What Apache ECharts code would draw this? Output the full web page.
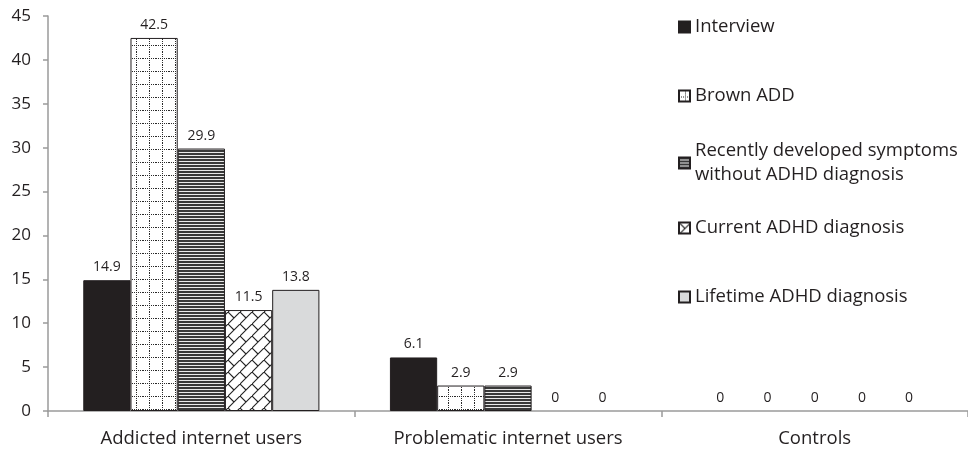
<!DOCTYPE html>
<html>
<head>
<meta charset="utf-8">
<script src="https://cdn.jsdelivr.net/npm/echarts@6/dist/echarts.min.js"></script>
<style>
html,body{margin:0;padding:0;background:#fff;}
#chart{width:968px;height:453px;}
</style>
</head>
<body>
<div id="chart"></div>
<script>
const categories = ['Addicted internet users', 'Problematic internet users', 'Controls'];
const seriesNames = ['Interview', 'Brown ADD', 'Recently developed symptoms\nwithout ADHD diagnosis', 'Current ADHD diagnosis', 'Lifetime ADHD diagnosis'];
const interview = [14.9, 6.1, 0];
const brownADD = [42.5, 2.9, 0];
const recentSymptoms = [29.9, 2.9, 0];
const currentADHD = [11.5, 0, 0];
const lifetimeADHD = [13.8, 0, 0];
const yTicks = {min: 0, max: 45, interval: 5};

const FONT = '"Open Sans", sans-serif';
const INK = '#231f20';

function makeCanvas(w, h, draw) {
  const c = document.createElement('canvas');
  c.width = w; c.height = h;
  const ctx = c.getContext('2d');
  draw(ctx, w, h);
  return c;
}
const dottedGrid = makeCanvas(13, 13, (ctx, w, h) => {
  ctx.fillStyle = '#fff'; ctx.fillRect(0, 0, w, h);
  ctx.fillStyle = '#2a2a2a';
  for (let x = 0; x < w; x += 2) ctx.fillRect(x, 6, 1, 1);
  for (let y = 0; y < h; y += 2) ctx.fillRect(6, y, 1, 1);
});
const hStripes = makeCanvas(4, 3, (ctx, w, h) => {
  ctx.fillStyle = '#e8e8e8'; ctx.fillRect(0, 0, w, h);
  ctx.fillStyle = '#383838'; ctx.fillRect(0, 0, w, 2);
});
const brick = makeCanvas(12, 12, (ctx, w, h) => {
  ctx.fillStyle = '#fff'; ctx.fillRect(0, 0, w, h);
  ctx.strokeStyle = '#222'; ctx.lineWidth = 1.1;
  ctx.beginPath();
  ctx.moveTo(-1, 13); ctx.lineTo(13, -1);
  ctx.moveTo(0, 0); ctx.lineTo(6, 6);
  ctx.stroke();
});

const fills = [
  INK,
  {image: dottedGrid, repeat: 'repeat'},
  {image: hStripes, repeat: 'repeat'},
  {image: brick, repeat: 'repeat'},
  '#d9dadb'
];
const values = [interview, brownADD, recentSymptoms, currentADHD, lifetimeADHD];
const legendCenters = [27, 96, 163, 228, 297];

const chart = echarts.init(document.getElementById('chart'), null, {renderer: 'canvas'});

const series = seriesNames.map((name, i) => ({
  name: name,
  type: 'bar',
  data: values[i].map(v => v === 0 ? {value: v, itemStyle: {borderWidth: 0}} : v),
  barGap: '0%',
  barCategoryGap: '23%',
  itemStyle: {color: fills[i], borderColor: INK, borderWidth: 1},
  label: {
    show: true, position: 'top', distance: 6,
    fontFamily: FONT, fontSize: 14, color: INK
  },
  emphasis: {disabled: true},
  animation: false
}));

const legends = seriesNames.map((name, i) => {
  const twoLine = name.indexOf('\n') >= 0;
  return {
    data: [name],
    orient: 'vertical',
    left: 678,
    top: twoLine ? legendCenters[i] - 36 : legendCenters[i] - 12,
    padding: 0,
    itemWidth: 11,
    itemHeight: 11,
    itemGap: 0,
    icon: 'rect',
    selectedMode: false,
    textStyle: {
      fontFamily: FONT, fontSize: 18.5, color: INK, lineHeight: 24,
      padding: twoLine ? [24, 0, 0, 0] : 0
    }
  };
});

chart.setOption({
  animation: false,
  backgroundColor: '#fff',
  textStyle: {fontFamily: FONT},
  grid: {left: 48, right: -3, top: 16, bottom: 42, containLabel: false},
  legend: legends,
  xAxis: {
    type: 'category',
    data: categories,
    axisLine: {lineStyle: {color: '#9a9a9a', width: 1.5}},
    axisTick: {show: true, length: 6, alignWithLabel: false, lineStyle: {color: '#9a9a9a', width: 1.5}},
    axisLabel: {fontFamily: FONT, fontSize: 18.5, color: INK, margin: 18}
  },
  yAxis: {
    type: 'value',
    min: yTicks.min, max: yTicks.max, interval: yTicks.interval,
    axisLine: {show: true, lineStyle: {color: '#9a9a9a', width: 1.5}},
    axisTick: {show: true, length: 5, lineStyle: {color: '#9a9a9a', width: 1.5}},
    splitLine: {show: false},
    axisLabel: {fontFamily: FONT, fontSize: 17, color: INK, margin: 17}
  },
  series: series
});
</script>
</body>
</html>
